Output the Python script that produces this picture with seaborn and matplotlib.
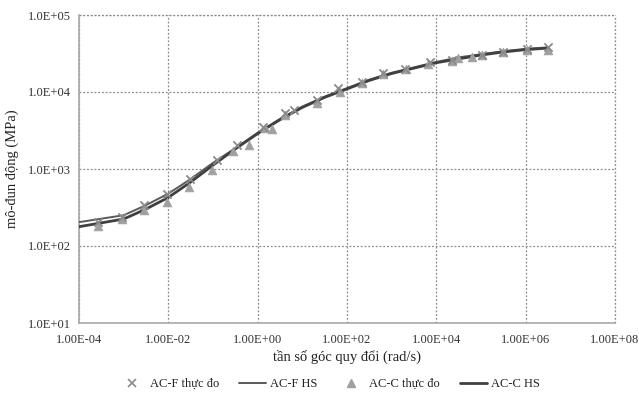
import numpy as np
import pandas as pd
import matplotlib
matplotlib.use("Agg")
import matplotlib.pyplot as plt
import seaborn as sns
from matplotlib.ticker import FixedLocator, NullLocator, FuncFormatter
from matplotlib.lines import Line2D

# ---- data ----
acf_freq = [2.66e-4, 9.1e-4, 2.8e-3, 9.3e-3, 3.0e-2, 0.123, 0.34, 1.32, 4.07, 6.46,
            20.9, 61.7, 214, 631, 1950, 7080, 21900, 1.05e5, 3.09e5, 1.05e6, 3.09e6]
acf_mod = [204, 240, 340, 480, 740, 1320, 2040, 3540, 5370, 5900,
           7940, 11300, 13500, 17700, 20000, 24500, 26300, 30400, 33100, 36300, 38000]

acc_freq = [2.66e-4, 9.1e-4, 2.8e-3, 9.3e-3, 2.9e-2, 9.5e-2, 0.28, 0.63, 1.45, 2.09,
            4.07, 20.9, 69, 214, 631, 2090, 6460, 21900, 30200, 64600, 1.05e5, 3.09e5, 1.05e6, 3.09e6]
acc_mod = [182, 224, 295, 372, 585, 975, 1700, 2040, 3390, 3300,
           5100, 7200, 10000, 13100, 17100, 19900, 23000, 25200, 27600, 28400, 30400, 32600, 35300, 35300]

hs_freq = [1e-4, 1e-3, 3.16e-3, 1e-2, 3.16e-2, 1e-1, 3.16e-1, 1, 3.16, 10, 31.6, 100,
           316, 1e3, 3.16e3, 1e4, 3.16e4, 1e5, 3.16e5, 1e6, 3.16e6]
acf_hs = [204, 251, 339, 479, 741, 1202, 1862, 2951, 4467, 6457, 8710, 11220,
          14450, 17780, 20890, 24550, 28180, 30900, 33880, 36310, 38020]
acc_hs = [178, 224, 302, 427, 676, 1122, 1820, 2884, 4365, 6310, 8511, 10960,
          14130, 17380, 20420, 23990, 26920, 30200, 33110, 35480, 37150]

xticks = [1e-4, 1e-2, 1e0, 1e2, 1e4, 1e6, 1e8]
xtick_labels = ["1.00E-04", "1.00E-02", "1.00E+00", "1.00E+02", "1.00E+04", "1.00E+06", "1.00E+08"]
yticks = [1e1, 1e2, 1e3, 1e4, 1e5]
ytick_labels = ["1.0E+01", "1.0E+02", "1.0E+03", "1.0E+04", "1.0E+05"]

labels = ["AC-F thực đo", "AC-F HS", "AC-C thực đo", "AC-C HS"]

# ---- plot ----
sns.set_style("white")
plt.rcParams["font.family"] = ["Liberation Serif", "DejaVu Serif"]

fig = plt.figure(figsize=(6.39, 4.0), dpi=100)
ax = fig.add_axes([0.1236, 0.1925, 0.8388, 0.77])

df_hs = pd.DataFrame({"f": hs_freq * 2, "E": acf_hs + acc_hs,
                      "s": [labels[1]] * len(hs_freq) + [labels[3]] * len(hs_freq)})
sns.lineplot(data=df_hs[df_hs.s == labels[1]], x="f", y="E", ax=ax, color="#5a5a5a",
             lw=1.4, legend=False, zorder=3)
sns.lineplot(data=df_hs[df_hs.s == labels[3]], x="f", y="E", ax=ax, color="#404040",
             lw=2.0, legend=False, zorder=3)

df_f = pd.DataFrame({"f": acf_freq, "E": acf_mod})
df_c = pd.DataFrame({"f": acc_freq, "E": acc_mod})
sns.scatterplot(data=df_c, x="f", y="E", ax=ax, marker="^", color="#a0a0a0",
                s=40, edgecolor="#a0a0a0", linewidth=0.5, zorder=4, legend=False)
sns.scatterplot(data=df_f, x="f", y="E", ax=ax, marker="x", color="#8a8a8a",
                s=35, linewidth=1.3, zorder=5, legend=False)

ax.set_xscale("log")
ax.set_yscale("log")
ax.set_xlim(1e-4, 1e8)
ax.set_ylim(1e1, 1e5)
ax.xaxis.set_major_locator(FixedLocator(xticks))
ax.yaxis.set_major_locator(FixedLocator(yticks))
ax.xaxis.set_minor_locator(NullLocator())
ax.yaxis.set_minor_locator(NullLocator())
ax.set_xticklabels(xtick_labels)
ax.set_yticklabels(ytick_labels)
ax.tick_params(axis="both", labelsize=9, colors="#333333", length=4, width=0.8,
               direction="out")
ax.tick_params(axis="x", color="#a0a0a0", pad=4)
ax.tick_params(axis="y", color="#a0a0a0", pad=2)

ax.grid(True, which="major", linestyle=(0, (1.5, 1.5)), color="#8c8c8c", linewidth=0.9)
for s in ["top", "right"]:
    ax.spines[s].set_visible(False)
for s in ["left", "bottom"]:
    ax.spines[s].set_color("#a8a8a8")
    ax.spines[s].set_linewidth(1.2)
# dotted border at top/right like the grid
ax.axhline(1e5, linestyle=(0, (1.5, 1.5)), color="#8c8c8c", linewidth=0.9, clip_on=False)
ax.axvline(1e8, linestyle=(0, (1.5, 1.5)), color="#8c8c8c", linewidth=0.9, clip_on=False)

ax.set_xlabel("tần số góc quy đổi (rad/s)", fontsize=10.5, color="#222222", labelpad=3)
ax.set_ylabel("mô-đun động (MPa)", fontsize=10.5, color="#222222", labelpad=6)

handles = [
    Line2D([], [], marker="x", linestyle="none", color="#8a8a8a", markersize=6, mew=1.2),
    Line2D([], [], color="#5a5a5a", lw=1.4),
    Line2D([], [], marker="^", linestyle="none", color="#a0a0a0", markersize=6),
    Line2D([], [], color="#404040", lw=2.0),
]
fig.legend(handles, labels, loc="center", bbox_to_anchor=(0.515, 0.04), ncol=4,
           frameon=False, fontsize=9, handlelength=2.2, columnspacing=1.6,
           handletextpad=0.3, labelcolor="#222222")

fig.savefig("out.png", dpi=100, facecolor="white")
